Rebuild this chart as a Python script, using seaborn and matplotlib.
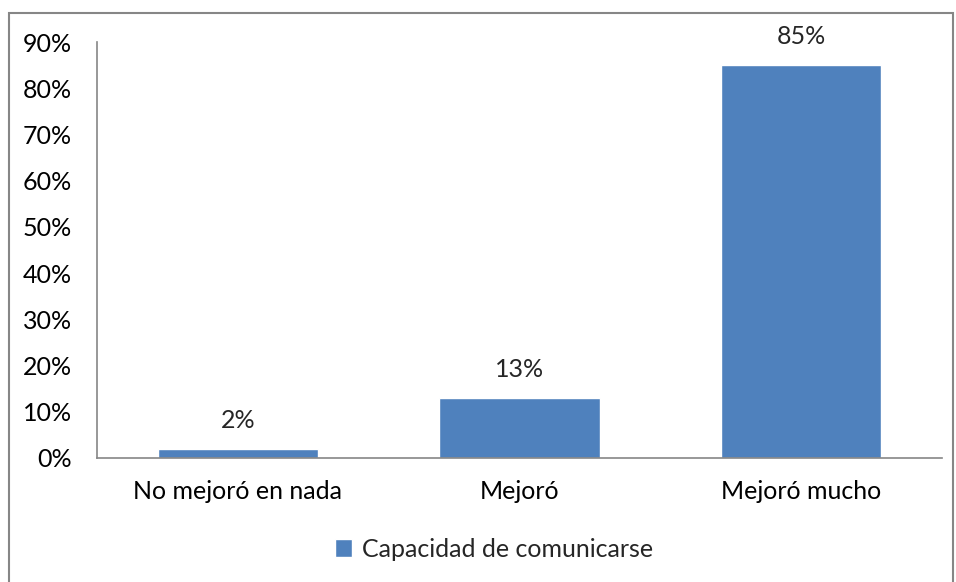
import pandas as pd
import seaborn as sns
import matplotlib.pyplot as plt
from matplotlib.patches import Rectangle
from matplotlib.ticker import FuncFormatter

# Data
categories = ["No mejoró en nada", "Mejoró", "Mejoró mucho"]
values = [0.02, 0.13, 0.85]
series_name = "Capacidad de comunicarse"

df = pd.DataFrame({"categoria": categories, "valor": values, "serie": series_name})

sns.set_style("white")
plt.rcParams["font.family"] = ["Lato", "DejaVu Sans"]
FS = 18

fig = plt.figure(figsize=(9.56, 5.82), dpi=100)
ax = fig.add_axes([0.1015, 0.2131, 0.8839, 0.7147])

blue = "#4F81BD"
sns.barplot(data=df, x="categoria", y="valor", hue="serie", palette=[blue],
            saturation=1, width=0.57, ax=ax, legend=True)

ax.set_ylim(0, 0.9)
ax.set_xlim(-0.5, 2.5)
ax.set_yticks([i / 10 for i in range(10)])
ax.yaxis.set_major_formatter(FuncFormatter(lambda v, p: f"{v:.0%}"))
ax.set_xlabel("")
ax.set_ylabel("")
ax.tick_params(axis="both", length=0, labelsize=FS, colors="black")
ax.tick_params(axis="y", pad=18)
ax.tick_params(axis="x", pad=16)

for side in ["top", "right"]:
    ax.spines[side].set_visible(False)
for side in ["left", "bottom"]:
    ax.spines[side].set_color("#868686")
    ax.spines[side].set_linewidth(1.2)

# value labels
for cont in ax.containers:
    ax.bar_label(cont, labels=[f"{v:.0%}" for v in values], padding=12, fontsize=FS)

# legend at bottom
leg = ax.legend(loc="center", bbox_to_anchor=(0.47, -0.219), frameon=False,
                fontsize=FS, handlelength=0.7, handleheight=0.7, handletextpad=0.4)

# outer chart border
fig.patches.append(Rectangle((9 / 956, -0.05), 944 / 956, 1 - 13 / 582 + 0.05,
                             transform=fig.transFigure, fill=False,
                             edgecolor="#868686", linewidth=1.5))

fig.savefig("out.png", dpi=100)
